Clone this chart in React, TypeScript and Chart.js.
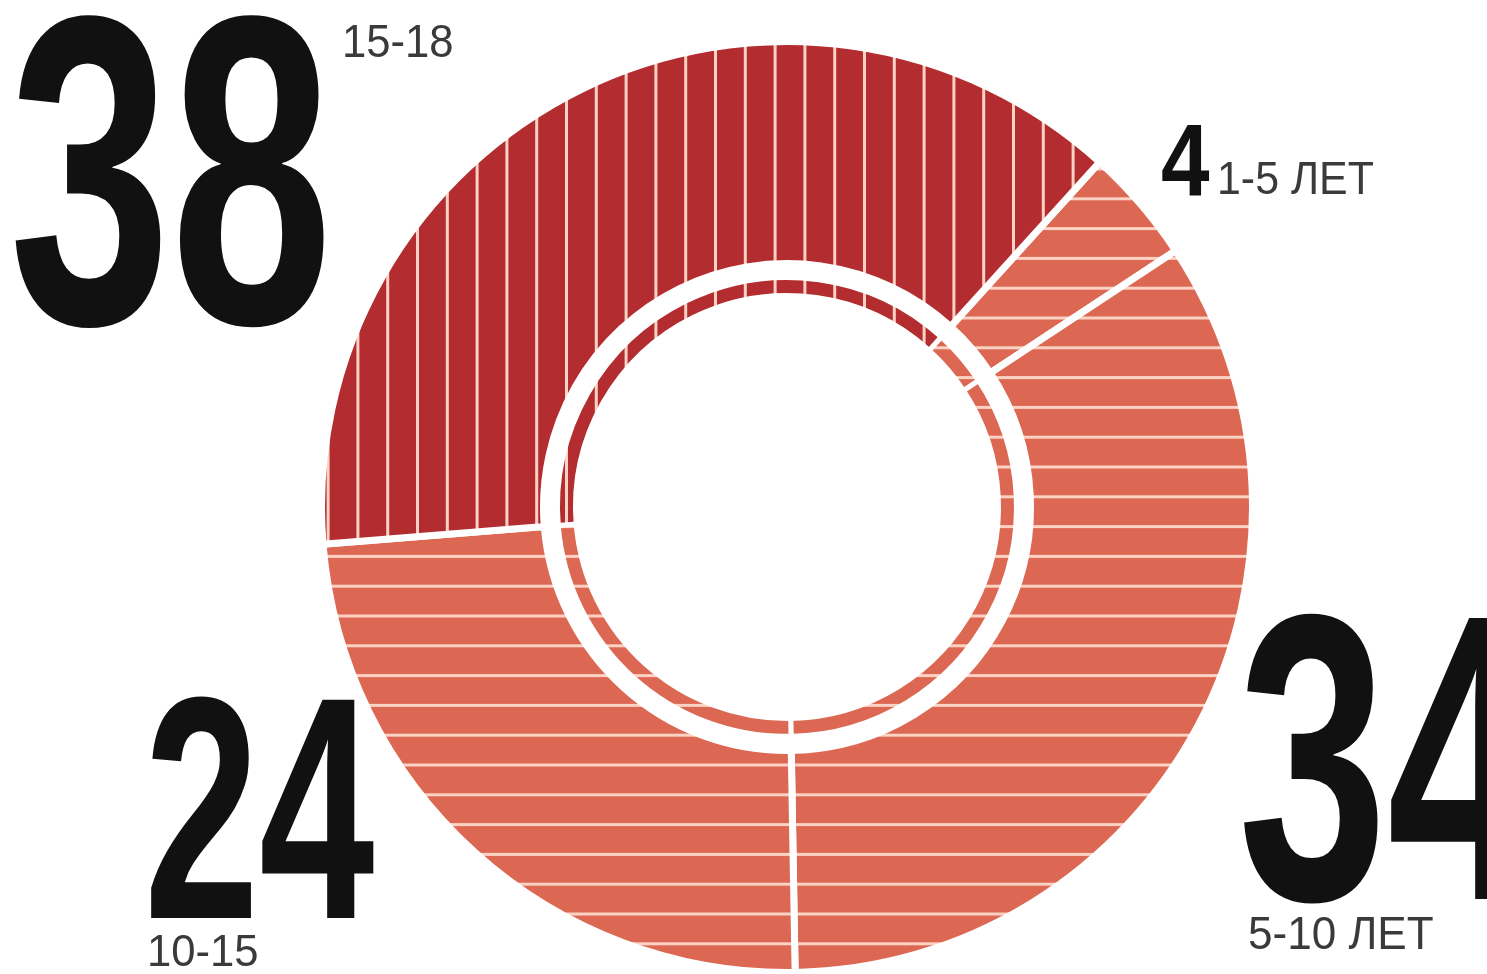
import React, { useEffect, useRef, useMemo } from 'react';
import { Chart, registerables } from 'chart.js';

Chart.register(...registerables);

// ---- data ----
const categories = ['1-5 ЛЕТ', '5-10 ЛЕТ', '10-15', '15-18'];
const values = [4, 34, 24, 38];
const valueLabels = values.map((v) => String(v));

// ---- style ----
const DARK = '#b32c2f';
const LIGHT = '#dc6853';
const LINE = '#fbd2c4';
const SPACING = 29.8;
const CANVAS = 938;
const CX = 787;
const CY = 507;
const LEFT = CX - CANVAS / 2;
const TOP = CY - CANVAS / 2;
const PAGE_VLINE_X = 536.7;
const PAGE_HLINE_Y = 765;

const BIG_FAMILY = "'Liberation Sans Narrow', 'Liberation Sans', Arial, sans-serif";
const SMALL_FAMILY = "'Liberation Sans Narrow', 'Liberation Sans', Arial, sans-serif";

// ink boxes for the labels (index matches categories / values)
const bigBoxes = [
  { x: 1162, y: 125, w: 48, h: 70 },
  { x: 1243, y: 615, w: 294, h: 290 },
  { x: 150, y: 698, w: 225, h: 222 },
  { x: 15, y: 17, w: 310, h: 313 },
];
const smallBoxes = [
  { x: 1220, y: 162, w: 153, h: 33 },
  { x: 1250, y: 917, w: 183, h: 33 },
  { x: 150, y: 935, w: 107, h: 32 },
  { x: 345, y: 25, w: 107, h: 33 },
];

function mod(a: number, b: number) {
  return ((a % b) + b) % b;
}

function makePattern(bg: string, vertical: boolean, phase: number) {
  const size = Math.round(SPACING * 5);
  const c = document.createElement('canvas');
  c.width = size;
  c.height = size;
  const g = c.getContext('2d')!;
  g.fillStyle = bg;
  g.fillRect(0, 0, size, size);
  g.fillStyle = LINE;
  for (let k = -1; k <= 6; k++) {
    const p = phase + k * SPACING;
    if (vertical) g.fillRect(p - 1.5, 0, 3, size);
    else g.fillRect(0, p - 1.5, size, 3);
  }
  return g.createPattern(c, 'repeat')!;
}

type FitProps = {
  text: string;
  x: number;
  y: number;
  w: number;
  h: number;
  weight: number;
  family: string;
  color: string;
};

function FitText({ text, x, y, w, h, weight, family, color }: FitProps) {
  const style = useMemo(() => {
    const ctx = document.createElement('canvas').getContext('2d')!;
    ctx.font = `${weight} 100px ${family}`;
    const m = ctx.measureText(text);
    const inkW = m.actualBoundingBoxLeft + m.actualBoundingBoxRight;
    const inkH = m.actualBoundingBoxAscent + m.actualBoundingBoxDescent;
    const size = (100 * h) / inkH;
    const k = size / 100;
    const sx = w / (inkW * k);
    const fa = m.fontBoundingBoxAscent * k;
    const fd = m.fontBoundingBoxDescent * k;
    return {
      position: 'absolute' as const,
      left: x + m.actualBoundingBoxLeft * k * sx,
      top: y - (fa - m.actualBoundingBoxAscent * k),
      fontSize: size + 'px',
      lineHeight: fa + fd + 'px',
      fontFamily: family,
      fontWeight: weight,
      color,
      whiteSpace: 'pre' as const,
      transform: `scaleX(${sx})`,
      transformOrigin: 'left top',
      margin: 0,
      padding: 0,
    };
  }, [text, x, y, w, h, weight, family, color]);
  return <div style={style}>{text}</div>;
}

export default function App() {
  const ref = useRef<HTMLCanvasElement>(null);

  useEffect(() => {
    if (!ref.current) return;
    const vPat = makePattern(DARK, true, mod(PAGE_VLINE_X - LEFT, SPACING));
    const hPat = makePattern(LIGHT, false, mod(PAGE_HLINE_Y - TOP, SPACING));
    const fills = values.map((_, i) => (i === 3 ? vPat : hPat));
    const chart = new Chart(ref.current, {
      type: 'doughnut',
      data: {
        labels: categories,
        datasets: [
          { data: values, backgroundColor: fills, borderColor: '#ffffff', borderWidth: 7, weight: 222 } as any,
          { data: values, backgroundColor: '#ffffff', borderColor: '#ffffff', borderWidth: 0, weight: 14 } as any,
          { data: values, backgroundColor: fills, borderColor: '#ffffff', borderWidth: 5, weight: 18 } as any,
        ],
      },
      options: {
        responsive: false,
        animation: false,
        events: [],
        rotation: 42.2,
        cutout: 211.5,
        layout: { padding: 0 },
        plugins: {
          legend: { display: false },
          tooltip: { enabled: false },
        },
      } as any,
    });
    return () => chart.destroy();
  }, []);

  return (
    <div
      style={{
        position: 'fixed',
        left: 0,
        top: 0,
        width: 1487,
        height: 974,
        overflow: 'hidden',
        background: '#ffffff',
      }}
    >
      <canvas
        ref={ref}
        width={CANVAS}
        height={CANVAS}
        style={{ position: 'absolute', left: LEFT, top: TOP, width: CANVAS, height: CANVAS }}
      />
      {valueLabels.map((t, i) => (
        <FitText
          key={'big' + i}
          text={t}
          {...bigBoxes[i]}
          weight={700}
          family={BIG_FAMILY}
          color="#111111"
        />
      ))}
      {categories.map((t, i) => (
        <FitText
          key={'small' + i}
          text={t}
          {...smallBoxes[i]}
          weight={400}
          family={SMALL_FAMILY}
          color="#3a3a3a"
        />
      ))}
    </div>
  );
}
